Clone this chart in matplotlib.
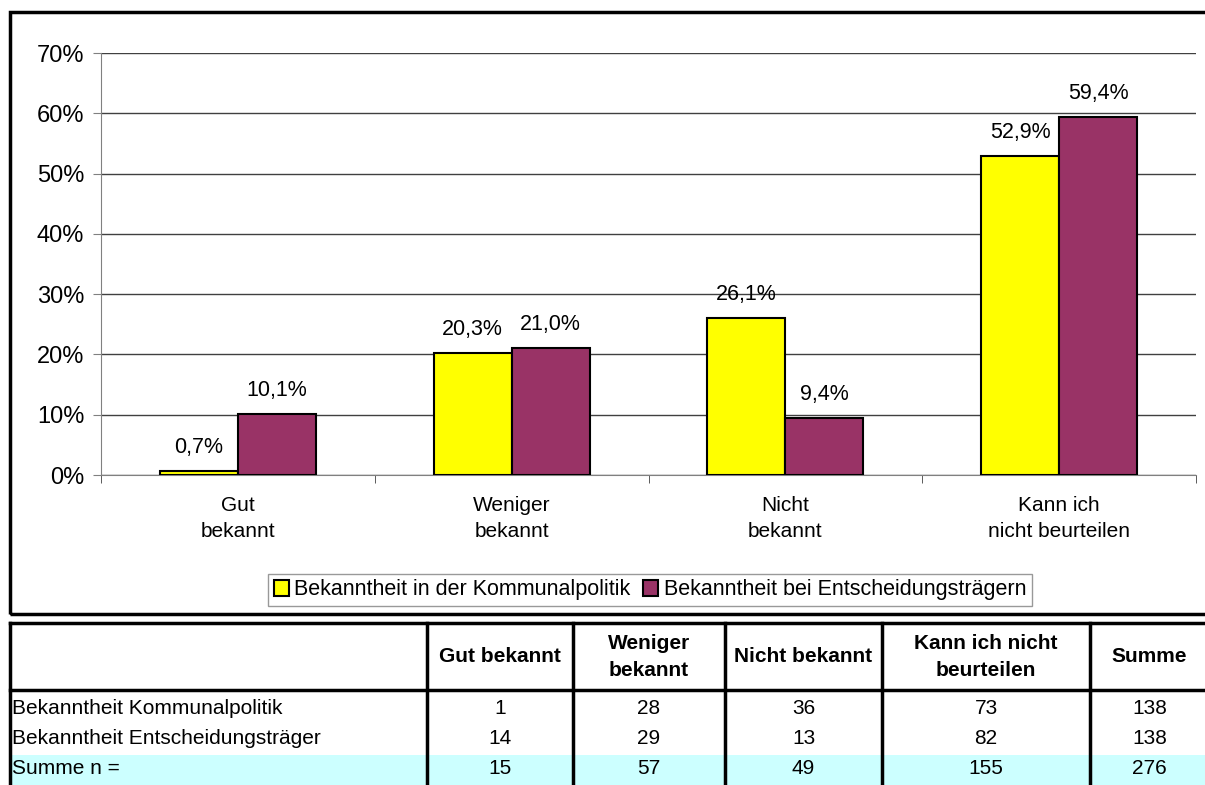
import numpy as np
import matplotlib
matplotlib.use("Agg")
import matplotlib.pyplot as plt
from matplotlib.patches import Rectangle
from matplotlib.lines import Line2D

plt.rcParams['font.family'] = ['Liberation Sans', 'DejaVu Sans']

categories = ["Gut\nbekannt", "Weniger\nbekannt", "Nicht\nbekannt", "Kann ich\nnicht beurteilen"]
series_names = ["Bekanntheit in der Kommunalpolitik", "Bekanntheit bei Entscheidungsträgern"]
kommunal = [0.7, 20.3, 26.1, 52.9]
entscheid = [10.1, 21.0, 9.4, 59.4]
colors = ["#FFFF00", "#993366"]

table_cols = ["", "Gut bekannt", "Weniger\nbekannt", "Nicht bekannt", "Kann ich nicht\nbeurteilen", "Summe"]
row_labels = ["Bekanntheit Kommunalpolitik", "Bekanntheit Entscheidungsträger", "Summe n ="]
row_kommunal = [1, 28, 36, 73, 138]
row_entscheid = [14, 29, 13, 82, 138]
row_summe = [15, 57, 49, 155, 276]

W, H = 1205, 785
fig = plt.figure(figsize=(W / 100, H / 100), dpi=100)


def fx(x):
    return x / W


def fy(y):
    return 1 - y / H


# chart frame
fig.add_artist(Rectangle((fx(10), fy(614)), fx(1300), fy(12) - fy(614), transform=fig.transFigure,
                         fill=False, edgecolor="black", lw=2.5))

ax = fig.add_axes([fx(101), fy(475), fx(1196) - fx(101), fy(53) - fy(475)])
x = np.arange(len(categories))
w = 0.285
b1 = ax.bar(x - w / 2, kommunal, w, color=colors[0], edgecolor="black", lw=1.5, label=series_names[0], zorder=3)
b2 = ax.bar(x + w / 2, entscheid, w, color=colors[1], edgecolor="black", lw=1.5, label=series_names[1], zorder=3)

for bars, vals in [(b1, kommunal), (b2, entscheid)]:
    for r, v in zip(bars, vals):
        ax.annotate(("%.1f%%" % v).replace(".", ","), (r.get_x() + r.get_width() / 2, v),
                    xytext=(0, 17), textcoords="offset points", ha="center", va="center", fontsize=15.5)

ax.set_xlim(-0.5, len(categories) - 0.5)
ax.set_ylim(0, 70)
ax.set_yticks(range(0, 71, 10))
ax.set_yticklabels(["%d%%" % t for t in range(0, 71, 10)], fontsize=17)
ax.yaxis.grid(True, color="#404040", lw=1)
ax.set_axisbelow(True)
ax.set_xticks(x)
ax.set_xticklabels(categories, fontsize=15, linespacing=1.5)
ax.set_xticks(np.arange(-0.5, len(categories), 1), minor=True)
ax.tick_params(axis="x", which="major", length=0, pad=15)
ax.tick_params(axis="x", which="minor", length=6, direction="out", color="#404040")
ax.tick_params(axis="y", length=6, direction="out", color="#808080", pad=6)
for s in ["top", "right"]:
    ax.spines[s].set_visible(False)
ax.spines["left"].set_color("#808080")
ax.spines["bottom"].set_color("#808080")

leg = fig.legend(handles=[b1, b2], loc="center", bbox_to_anchor=(fx(650), fy(590)), ncol=2,
                 fontsize=15.5, frameon=True, fancybox=False, handlelength=0.7, handleheight=0.7,
                 handletextpad=0.25, columnspacing=0.6, borderpad=0.25)
leg.get_frame().set_edgecolor("#808080")
leg.get_frame().set_linewidth(1)

# table
col_x = [10, 427, 573, 725, 882, 1090, 1300]
row_mid = [708, 738, 769]
fig.add_artist(Rectangle((fx(10), fy(785)), fx(1300), fy(755) - fy(785), transform=fig.transFigure,
                         facecolor="#CCFFFF", edgecolor="none"))
for cx in col_x[:-1]:
    fig.add_artist(Line2D([fx(cx), fx(cx)], [fy(623), fy(785)], transform=fig.transFigure, color="black", lw=2.5))
for ry in [623, 690]:
    fig.add_artist(Line2D([fx(10), fx(1300)], [fy(ry), fy(ry)], transform=fig.transFigure, color="black", lw=2.5))


def col_mid(i):
    # last column is cut by the image edge
    return (col_x[i] + col_x[i + 1]) / 2 if i < 5 else (col_x[5] + 1205) / 2 + 2


for i, name in enumerate(table_cols):
    if name:
        fig.text(fx(col_mid(i)), fy(657), name, ha="center", va="center", fontsize=15, fontweight="bold",
                 linespacing=1.55)

for j, (lab, vals) in enumerate(zip(row_labels, [row_kommunal, row_entscheid, row_summe])):
    yc = row_mid[j]
    fig.text(fx(12), fy(yc), lab, ha="left", va="center", fontsize=15)
    for i, v in enumerate(vals):
        fig.text(fx(col_mid(i + 1)), fy(yc), str(v), ha="center", va="center", fontsize=15)

fig.savefig("out.png", dpi=100)
